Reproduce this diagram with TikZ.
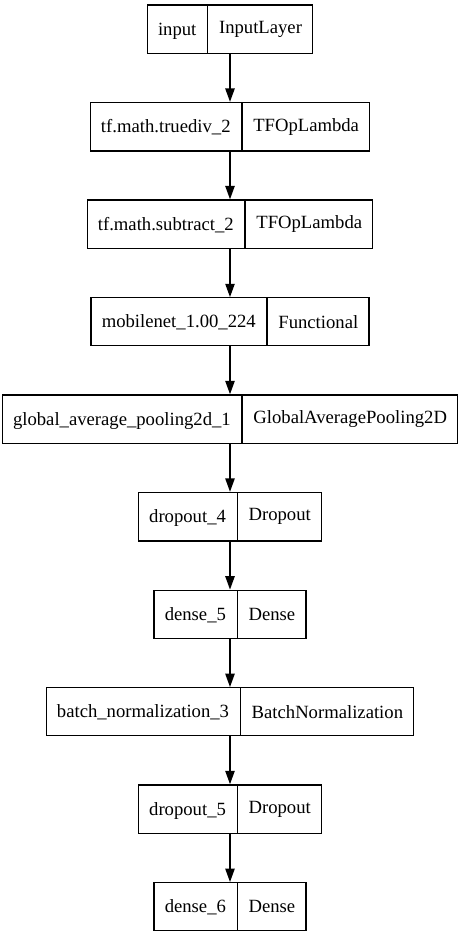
\documentclass[tikz,border=0pt]{standalone}
\usepackage{fontspec}
\setmainfont{Liberation Serif}
\usetikzlibrary{shapes.multipart,arrows.meta}

\begin{document}
\begin{tikzpicture}[x=1pt,y=-1pt,
    couche/.style={draw,line width=1pt,rectangle split,rectangle split horizontal,
        rectangle split parts=2,inner xsep=8pt,inner ysep=11pt,
        text height=11.5pt,text depth=2.5pt,font=\fontsize{14}{16}\selectfont},
    fleche/.style={-{Triangle[length=10pt,width=7pt]},line width=1pt}]
        \useasboundingbox (0,0) rectangle (345,702);
        % Couches
        \node[couche] (input) at (172.5,22) {input \nodepart{two} InputLayer};
        \node[couche] (truediv) at (172.5,95.11) {tf.math.truediv\_2 \nodepart{two} TFOpLambda};
        \node[couche] (subtract) at (172.5,168.22) {tf.math.subtract\_2 \nodepart{two} TFOpLambda};
        \node[couche] (mobilenet) at (172.5,241.33) {mobilenet\_1.00\_224 \nodepart{two} Functional};
        \node[couche] (pooling) at (172.5,314.44) {global\_average\_pooling2d\_1 \nodepart{two} GlobalAveragePooling2D};
        \node[couche] (dropoutA) at (172.5,387.56) {dropout\_4 \nodepart{two} Dropout};
        \node[couche] (denseA) at (172.5,460.67) {dense\_5 \nodepart{two} Dense};
        \node[couche] (batchnorm) at (172.5,533.78) {batch\_normalization\_3 \nodepart{two} BatchNormalization};
        \node[couche] (dropoutB) at (172.5,606.89) {dropout\_5 \nodepart{two} Dropout};
        \node[couche] (denseB) at (172.5,680) {dense\_6 \nodepart{two} Dense};
        % Liaisons
        \draw[fleche] (input.south) -- (truediv.north);
        \draw[fleche] (truediv.south) -- (subtract.north);
        \draw[fleche] (subtract.south) -- (mobilenet.north);
        \draw[fleche] (mobilenet.south) -- (pooling.north);
        \draw[fleche] (pooling.south) -- (dropoutA.north);
        \draw[fleche] (dropoutA.south) -- (denseA.north);
        \draw[fleche] (denseA.south) -- (batchnorm.north);
        \draw[fleche] (batchnorm.south) -- (dropoutB.north);
        \draw[fleche] (dropoutB.south) -- (denseB.north);
\end{tikzpicture}
\end{document}
